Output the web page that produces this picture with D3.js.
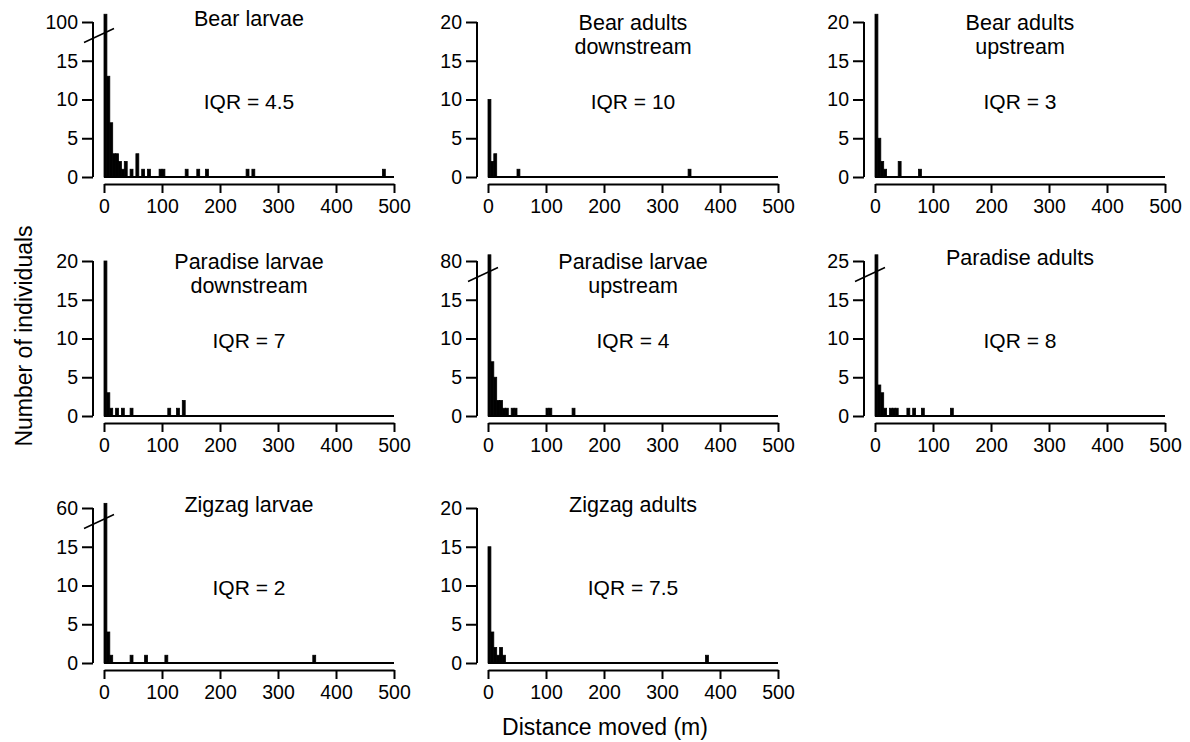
<!DOCTYPE html>
<html>
<head>
<meta charset="utf-8">
<script src="https://cdn.jsdelivr.net/npm/d3@7"></script>
<style>
  body { margin: 0; background: #fff; }
  text { font-family: "Liberation Sans", Arial, sans-serif; fill: #000; }
</style>
</head>
<body>
<svg id="chart" width="1190" height="742"></svg>
<script>
// distance bins are 5 m wide; each pair is [bin start (m), number of individuals]
const binWidth = 5;
const bearLarvae = [[0,105],[5,13],[10,7],[15,3],[20,3],[25,2],[30,1],[35,2],[45,1],[55,3],[65,1],[75,1],[95,1],[100,1],[140,1],[160,1],[175,1],[245,1],[255,1],[480,1]];
const bearAdultsDown = [[0,10],[5,2],[10,3],[50,1],[345,1]];
const bearAdultsUp = [[0,21],[5,5],[10,2],[15,1],[40,2],[75,1]];
const paradiseLarvaeDown = [[0,20],[5,3],[10,1],[20,1],[30,1],[45,1],[110,1],[125,1],[135,2]];
const paradiseLarvaeUp = [[0,84],[5,7],[10,5],[15,2],[20,2],[25,1],[30,1],[40,1],[45,1],[100,1],[105,1],[145,1]];
const paradiseAdults = [[0,29],[5,4],[10,3],[15,1],[25,1],[30,1],[35,1],[55,1],[65,1],[80,1],[130,1]];
const zigzagLarvae = [[0,63],[5,4],[10,1],[45,1],[70,1],[105,1],[360,1]];
const zigzagAdults = [[0,15],[5,4],[10,2],[15,1],[20,2],[25,1],[375,1]];

const panelData = [bearLarvae, bearAdultsDown, bearAdultsUp, paradiseLarvaeDown, paradiseLarvaeUp, paradiseAdults, zigzagLarvae, zigzagAdults];
const panelTitles = [["Bear larvae"], ["Bear adults", "downstream"], ["Bear adults", "upstream"],
  ["Paradise larvae", "downstream"], ["Paradise larvae", "upstream"], ["Paradise adults"],
  ["Zigzag larvae"], ["Zigzag adults"]];
const iqrLabels = ["4.5", "10", "3", "7", "4", "8", "2", "7.5"];
const yTopLabels = [100, 20, 20, 20, 80, 25, 60, 20];
const xTicks = [0, 100, 200, 300, 400, 500];
const yTicks = [0, 5, 10, 15];

const svg = d3.select("#chart");

const colX = [104, 488, 875];
const rowY = [177, 416, 663];
const plotW = 290, plotH = 155;

panelData.forEach(function(data, i) {
  const col = i % 3, row = Math.floor(i / 3);
  const top = yTopLabels[i];
  const broken = top > 20;

  const x = d3.scaleLinear().domain([0, 500]).range([colX[col], colX[col] + plotW]);
  const yLin = d3.scaleLinear().domain([0, 20]).range([rowY[row], rowY[row] - plotH]);
  // broken axis: everything above 18 is squeezed into the top of the panel
  const y = broken
    ? d3.scaleLinear().domain([0, 18, top, top + 5]).range([yLin(0), yLin(18), yLin(20), yLin(21)])
    : yLin;

  const g = svg.append("g");
  const axisX = colX[col] - 11;

  g.selectAll("rect").data(data).enter().append("rect")
    .attr("x", d => x(d[0]))
    .attr("width", d => x(d[0] + binWidth) - x(d[0]))
    .attr("y", d => y(d[1]))
    .attr("height", d => y(0) - y(d[1]))
    .attr("fill", "#000")
    .attr("stroke", "#000")
    .attr("stroke-width", 0.8);

  // zero line under the bars
  g.append("line")
    .attr("x1", x(0)).attr("x2", x(500))
    .attr("y1", y(0)).attr("y2", y(0))
    .attr("stroke", "#000").attr("stroke-width", 2);

  // y axis
  const ya = g.append("g")
    .attr("transform", "translate(" + axisX + ",0)")
    .call(d3.axisLeft(y).tickValues(yTicks.concat([top])).tickSize(11).tickPadding(4).tickFormat(d3.format("d")));
  ya.select(".domain").remove();
  ya.selectAll(".tick line").attr("stroke-width", 2);
  ya.selectAll("text").attr("font-size", 19.5).style("font-family", "Liberation Sans, Arial, sans-serif");
  ya.append("line")
    .attr("x1", 0).attr("x2", 0)
    .attr("y1", y(0)).attr("y2", y(top))
    .attr("stroke", "#000").attr("stroke-width", 2);

  if (broken) {
    g.append("line")
      .attr("x1", axisX - 9).attr("y1", yLin(18) + 5)
      .attr("x2", axisX + 21).attr("y2", yLin(18) - 9)
      .attr("stroke", "#000").attr("stroke-width", 1.5);
  }

  // x axis
  const xa = g.append("g")
    .attr("transform", "translate(0," + (rowY[row] + 7) + ")")
    .call(d3.axisBottom(x).tickValues(xTicks).tickSize(9).tickSizeOuter(0).tickPadding(6));
  xa.select(".domain").attr("stroke-width", 2);
  xa.selectAll(".tick line").attr("stroke-width", 2);
  xa.selectAll("text").attr("font-size", 19.5).style("font-family", "Liberation Sans, Arial, sans-serif");

  // title and IQR
  const cx = x(250);
  const lines = panelTitles[i];
  lines.forEach(function(t, k) {
    g.append("text")
      .attr("x", cx)
      .attr("y", yLin(20) + (lines.length > 1 ? 8 + k * 24 : 4))
      .attr("text-anchor", "middle")
      .attr("font-size", 21.5)
      .text(t);
  });
  g.append("text")
    .attr("x", cx)
    .attr("y", yLin(20) + 87)
    .attr("text-anchor", "middle")
    .attr("font-size", 21)
    .text("IQR = " + iqrLabels[i]);
});

svg.append("text")
  .attr("x", 605).attr("y", 735)
  .attr("text-anchor", "middle")
  .attr("font-size", 23)
  .text("Distance moved (m)");

svg.append("text")
  .attr("transform", "translate(32,336) rotate(-90)")
  .attr("text-anchor", "middle")
  .attr("font-size", 23)
  .text("Number of individuals");
</script>
</body>
</html>
